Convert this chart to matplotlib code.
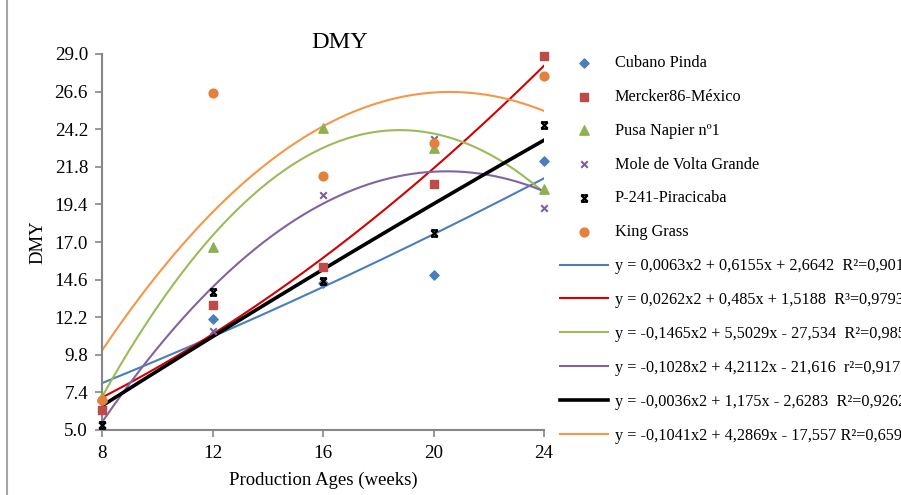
import numpy as np
import matplotlib
matplotlib.use('Agg')
import matplotlib.pyplot as plt
from matplotlib.path import Path
from matplotlib.lines import Line2D

plt.rcParams['font.family'] = ['Liberation Serif', 'DejaVu Serif']

# Data
weeks = [8, 12, 16, 20, 24]
cubano = [6.9, 12.1, 14.4, 14.9, 22.2]
mercker = [6.3, 13.0, 15.4, 20.7, 28.9]
pusa = [7.1, 16.7, 24.3, 23.0, 20.4]
mole = [5.3, 11.3, 20.0, 23.6, 19.2]
p241 = [5.3, 13.8, 14.5, 17.6, 24.5]
king = [6.9, 26.5, 21.2, 23.3, 27.6]

names = ['Cubano Pinda', 'Mercker86-México', 'Pusa Napier nº1',
         'Mole de Volta Grande', 'P-241-Piracicaba', 'King Grass']

# Trend line coefficients (quadratic, highest power first) as printed
trend_coefs = [
    [0.0063, 0.6155, 2.6642],
    [0.0262, 0.485, 1.5188],
    [-0.1465, 5.5029, -27.534],
    [-0.1028, 4.2112, -21.616],
    [-0.0036, 1.175, -2.6283],
    [-0.1041, 4.2869, -17.557],
]
trend_labels = [
    'y = 0,0063x2 + 0,6155x + 2,6642  R²=0,9017',
    'y = 0,0262x2 + 0,485x + 1,5188  R³=0,9793',
    'y = -0,1465x2 + 5,5029x - 27,534  R²=0,9852',
    'y = -0,1028x2 + 4,2112x - 21,616  r²=0,9172',
    'y = -0,0036x2 + 1,175x - 2,6283  R²=0,9262',
    'y = -0,1041x2 + 4,2869x - 17,557 R²=0,6599',
]

yticks = [5.0, 7.4, 9.8, 12.2, 14.6, 17.0, 19.4, 21.8, 24.2, 26.6, 29.0]
xticks = [8, 12, 16, 20, 24]

# hourglass-like star marker used by Excel
star_path = Path([(-1, -1), (1, 1), (-1, 1), (1, -1), (-1, 1), (1, 1), (-1, -1), (1, -1)],
                 [Path.MOVETO, Path.LINETO, Path.MOVETO, Path.LINETO,
                  Path.MOVETO, Path.LINETO, Path.MOVETO, Path.LINETO])

marker_styles = [
    dict(marker='D', color='#4a7ebb', s=22),
    dict(marker='s', color='#be4b48', s=40),
    dict(marker='^', color='#8cb24f', s=45),
    dict(marker='x', color='#7b5fa0', s=22, linewidths=1.5),
    dict(marker=star_path, color='black', s=22, linewidths=1.6),
    dict(marker='o', color='#e5803a', s=40),
]
line_styles = [
    dict(color='#4a7ebb', lw=1.5),
    dict(color='#d40000', lw=1.5),
    dict(color='#9bbb59', lw=1.5),
    dict(color='#8064a2', lw=1.5),
    dict(color='black', lw=2.6),
    dict(color='#f79646', lw=1.5),
]

fig = plt.figure(figsize=(9.01, 4.95), dpi=100)
ax = fig.add_axes([102 / 901, 1 - 430 / 495, 442 / 901, 376 / 495])

series = [cubano, mercker, pusa, mole, p241, king]
xs = np.linspace(8, 24, 300)

line_handles = []
for coef, lab, st in zip(trend_coefs, trend_labels, line_styles):
    h, = ax.plot(xs, np.polyval(coef, xs), label=lab, zorder=2, **st)
    line_handles.append(h)

scatter_handles = []
for vals, name, st in zip(series, names, marker_styles):
    h = ax.scatter(weeks, vals, label=name, zorder=3, clip_on=False, **st)
    scatter_handles.append(h)

ax.set_xlim(8, 24)
ax.set_ylim(5.0, 29.0)
ax.set_xticks(xticks)
ax.set_yticks(yticks)
ax.set_yticklabels([f'{v:.1f}' for v in yticks])
ax.tick_params(axis='both', labelsize=13.7, color='#868686', length=5, width=1.2)
ax.tick_params(axis='x', pad=6)
ax.tick_params(axis='y', pad=5)
for side in ['top', 'right']:
    ax.spines[side].set_visible(False)
for side in ['left', 'bottom']:
    ax.spines[side].set_color('#868686')
    ax.spines[side].set_linewidth(1.5)

ax.set_xlabel('Production Ages (weeks)', fontsize=13.5, labelpad=7)
ax.set_ylabel('DMY', fontsize=13.5, labelpad=6)
fig.text(340 / 901, 1 - 42 / 495, 'DMY', fontsize=17.5, ha='center', va='center')

fig.legend(handles=scatter_handles + line_handles,
           loc='upper left', bbox_to_anchor=(560 / 901, 1 - 55 / 495),
           frameon=False, fontsize=11.7, handlelength=2.95, handletextpad=0.43,
           labelspacing=1.1, borderpad=0, borderaxespad=0, scatterpoints=1)

# chart area border on the left
fig.add_artist(Line2D([7 / 901, 7 / 901], [0, 1], color='#a6a6a6', lw=1.5,
                      transform=fig.transFigure))

fig.savefig('out.png', dpi=100)
